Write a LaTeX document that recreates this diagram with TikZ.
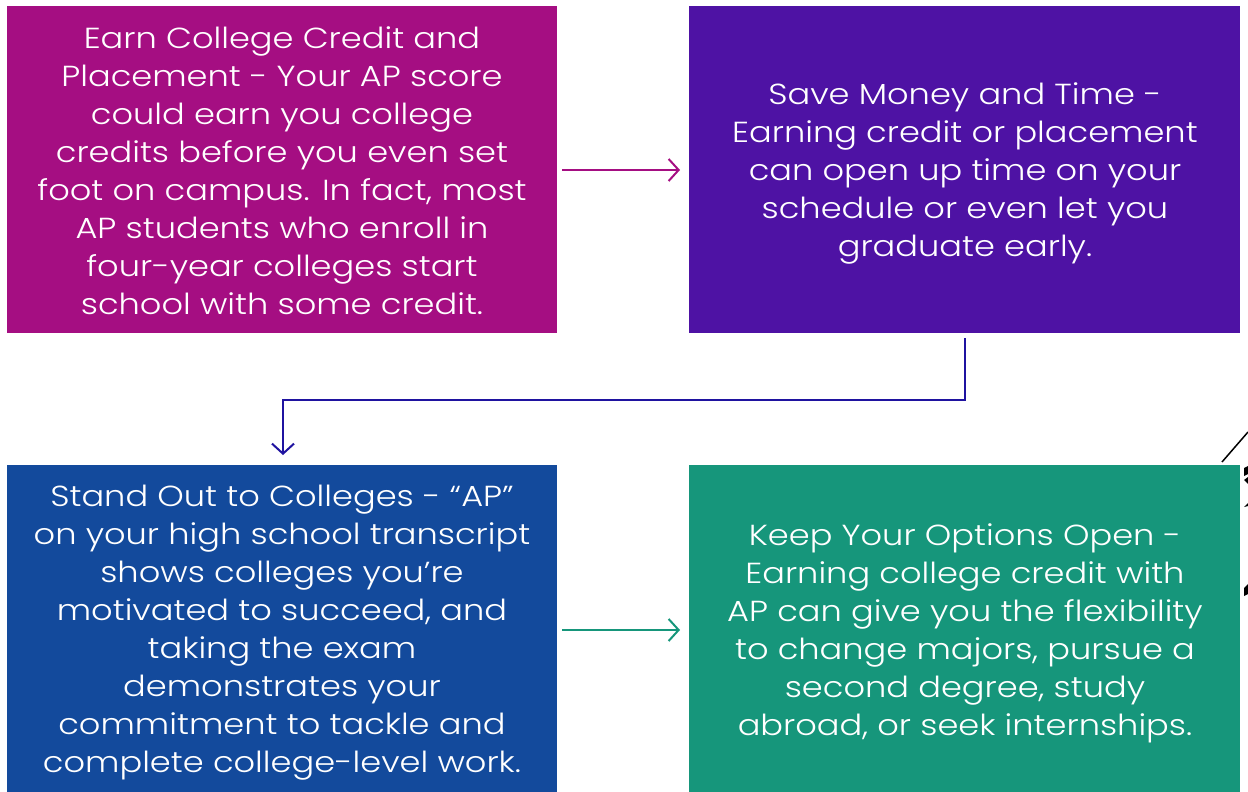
\documentclass[tikz,border=0pt]{standalone}
\usepackage{fontspec}
\setmainfont{Poppins}[UprightFont=* Light, FakeStretch=1.16]
\usetikzlibrary{arrows.meta}
\definecolor{cA}{HTML}{A50E82}
\definecolor{cB}{HTML}{4E12A4}
\definecolor{cC}{HTML}{134A9C}
\definecolor{cD}{HTML}{16967B}
\definecolor{cE}{HTML}{1F13A0}
\tikzset{
  txt/.style={text=white, align=center, font=\fontsize{29}{38}\selectfont, inner sep=0pt},
  link/.style={line width=2pt, -{Straight Barb[length=10pt,width=22pt,line width=2pt]}},
}
\begin{document}
\begin{tikzpicture}[x=1pt,y=-1pt]
\useasboundingbox (0,0) rectangle (1248,792);
\fill[cA] (7,6) rectangle (557,333);
\fill[cB] (689,6) rectangle (1240,333);
\fill[cC] (7,465) rectangle (557,795);
\fill[cD] (689,465) rectangle (1240,795);
\node[txt] (t1) at (282,171) {Earn College Credit and\\Placement - Your AP score\\could earn you college\\credits before you even set\\foot on campus. In fact, most\\AP students who enroll in\\four-year colleges start\\school with some credit.};
\node[txt] (t2) at (965,173) {Save Money and Time -\\Earning credit or placement\\can open up time on your\\schedule or even let you\\graduate early.};
\node[txt] (t3) at (282,633) {Stand Out to Colleges - “AP”\\on your high school transcript\\shows colleges you\char"0027 re\\motivated to succeed, and\\taking the exam\\demonstrates your\\commitment to tackle and\\complete college-level work.};
\node[txt] (t4) at (965,633) {Keep Your Options Open -\\Earning college credit with\\AP can give you the flexibility\\to change majors, pursue a\\second degree, study\\abroad, or seek internships.};
\coordinate (a1s) at (562,170);
\coordinate (a1e) at (680,170);
\coordinate (a2s) at (965,338);
\coordinate (a2m1) at (965,400);
\coordinate (a2m2) at (283,400);
\coordinate (a2e) at (283,455);
\coordinate (a3s) at (562,630);
\coordinate (a3e) at (680,630);
\draw[link, cA] (a1s) -- (a1e);
\draw[link, cE] (a2s) -- (a2m1) -- (a2m2) -- (a2e);
\draw[link, cD] (a3s) -- (a3e);
\coordinate (l1) at (1222,462);
\coordinate (l2) at (1248,432);
\draw[line width=1.5pt] (l1) -- (l2);
\fill (1244,468) -- (1248,466) -- (1248,474) -- (1244,476) -- cycle;
\fill (1244,480) -- (1248,477) -- (1248,484) -- cycle;
\fill (1244,507) -- (1248,503) -- (1248,506) -- cycle;
\fill (1244,588) -- (1248,584) -- (1248,594) -- (1244,596) -- cycle;
\end{tikzpicture}
\end{document}
